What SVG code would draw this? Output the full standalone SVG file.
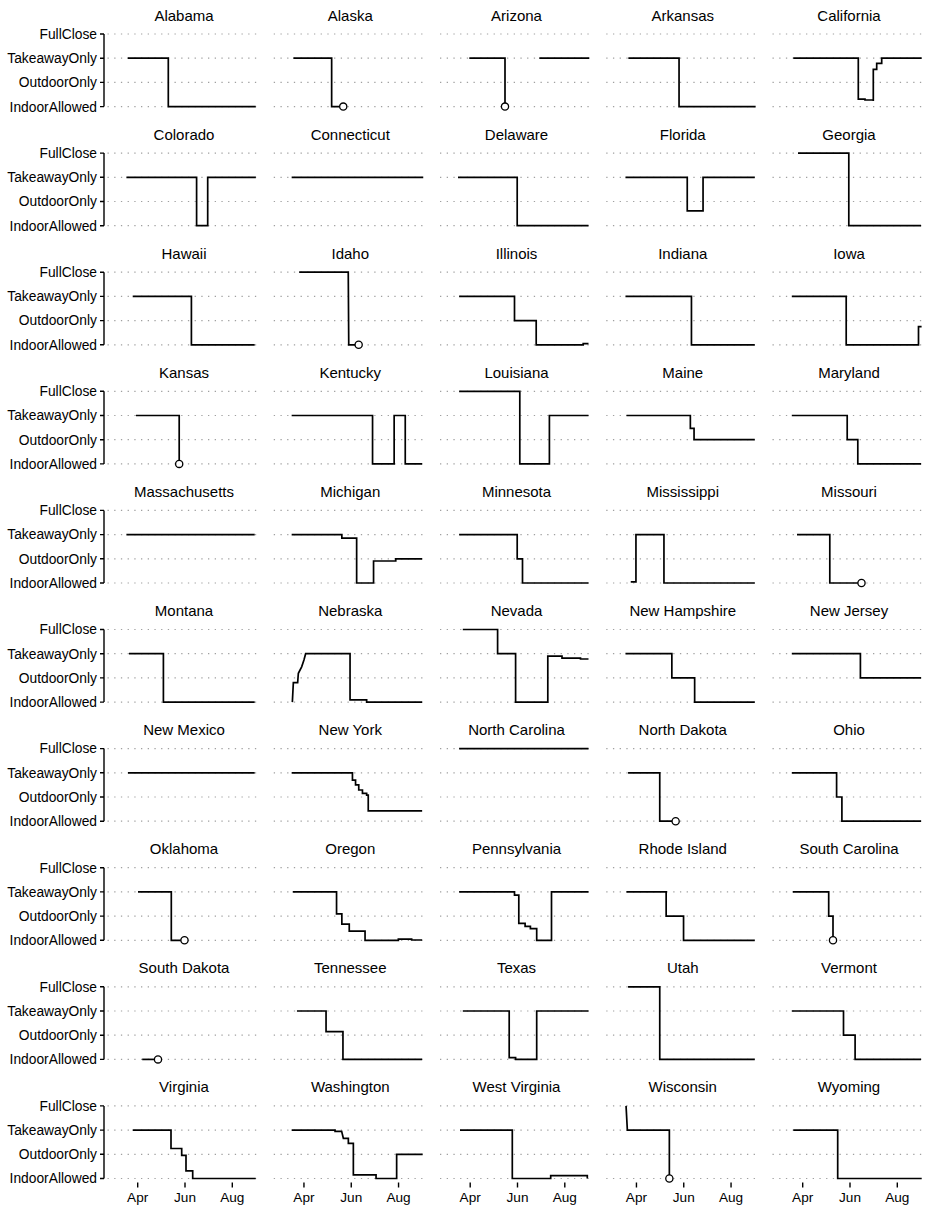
<svg xmlns="http://www.w3.org/2000/svg" xmlns:xlink="http://www.w3.org/1999/xlink" width="928" height="1206" viewBox="0 0 928 1206">
<style>
text{font-family:"Liberation Sans",Arial,Helvetica,sans-serif;fill:#000}
.t{font-size:15px;text-anchor:middle}
.yl{font-size:13.8px;text-anchor:end}
.xl{font-size:13.6px;text-anchor:middle}
.g{stroke:#a0a0a0;stroke-width:1.2;stroke-dasharray:1.3 5.4;fill:none}
.s{stroke:#000;stroke-width:1.7;fill:none;stroke-linejoin:miter}
.c{fill:#fff;stroke:#000;stroke-width:1.3}
.ax{stroke:#000;stroke-width:1.4;fill:none}
</style>
<defs>
<g id="grid">
<line class="g" x1="107.5" y1="34" x2="260.5" y2="34"/>
<line class="g" x1="107.5" y1="58.2" x2="260.5" y2="58.2"/>
<line class="g" x1="107.5" y1="82.4" x2="260.5" y2="82.4"/>
<line class="g" x1="107.5" y1="106.6" x2="260.5" y2="106.6"/>
</g>
<g id="yaxis">
<path class="ax" d="M104,34V106.6M100,34H104M100,58.2H104M100,82.4H104M100,106.6H104"/>
<text class="yl" x="97" y="38.9">FullClose</text><text class="yl" x="97" y="63.1">TakeawayOnly</text><text class="yl" x="97" y="87.3">OutdoorOnly</text><text class="yl" x="97" y="111.5">IndoorAllowed</text>
</g>
<g id="xaxis">
<path class="ax" d="M137.7,110.7V115.7M185,110.7V115.7M232.3,110.7V115.7"/>
<text class="xl" x="137.7" y="130">Apr</text><text class="xl" x="185" y="130">Jun</text><text class="xl" x="232.3" y="130">Aug</text>
</g>
</defs>
<rect width="928" height="1206" fill="#fff"/>

<g id="y-axes">
<use xlink:href="#yaxis" transform="translate(0,0)"/>
<use xlink:href="#yaxis" transform="translate(0,119.1)"/>
<use xlink:href="#yaxis" transform="translate(0,238.2)"/>
<use xlink:href="#yaxis" transform="translate(0,357.3)"/>
<use xlink:href="#yaxis" transform="translate(0,476.4)"/>
<use xlink:href="#yaxis" transform="translate(0,595.5)"/>
<use xlink:href="#yaxis" transform="translate(0,714.6)"/>
<use xlink:href="#yaxis" transform="translate(0,833.7)"/>
<use xlink:href="#yaxis" transform="translate(0,952.8)"/>
<use xlink:href="#yaxis" transform="translate(0,1071.9)"/>
</g>

<g id="x-axes">
<use xlink:href="#xaxis" transform="translate(0,1071.9)"/>
<use xlink:href="#xaxis" transform="translate(166.25,1071.9)"/>
<use xlink:href="#xaxis" transform="translate(332.5,1071.9)"/>
<use xlink:href="#xaxis" transform="translate(498.75,1071.9)"/>
<use xlink:href="#xaxis" transform="translate(665,1071.9)"/>
</g>

<g id="panels">
<!-- Row 1 -->
<g id="alabama" transform="translate(0,0)"><use xlink:href="#grid"/><text class="t" x="184" y="20.5">Alabama</text><path class="s" d="M127.7,58.2H168.3V106.6H255.7"/></g>
<g id="alaska" transform="translate(166.25,0)"><use xlink:href="#grid"/><text class="t" x="184" y="20.5">Alaska</text><path class="s" d="M127.1,58.2H165.4V106.6H177"/><circle class="c" cx="177" cy="106.6" r="3.6"/></g>
<g id="arizona" transform="translate(332.5,0)"><use xlink:href="#grid"/><text class="t" x="184" y="20.5">Arizona</text><path class="s" d="M136.8,58.2H172.5V106.6M206.8,58.2H256.8"/><circle class="c" cx="172.5" cy="106.6" r="3.6"/></g>
<g id="arkansas" transform="translate(498.75,0)"><use xlink:href="#grid"/><text class="t" x="184" y="20.5">Arkansas</text><path class="s" d="M129.6,58.2H180.3V106.6H256.9"/></g>
<g id="california" transform="translate(665,0)"><use xlink:href="#grid"/><text class="t" x="184" y="20.5">California</text><path class="s" d="M128.3,58.2H193.3V99.1H200V100H208.3V101V69.3H211.7V63.3H216.7V58.2H256.7"/></g>

<!-- Row 2 -->
<g id="colorado" transform="translate(0,119.1)"><use xlink:href="#grid"/><text class="t" x="184" y="20.5">Colorado</text><path class="s" d="M126.4,58.2H196.6V106.6H207.7V58.2H255.8"/></g>
<g id="connecticut" transform="translate(166.25,119.1)"><use xlink:href="#grid"/><text class="t" x="184" y="20.5">Connecticut</text><path class="s" d="M125.4,58.2H257"/></g>
<g id="delaware" transform="translate(332.5,119.1)"><use xlink:href="#grid"/><text class="t" x="184" y="20.5">Delaware</text><path class="s" d="M125.5,58.2H184.7V106.6H256"/></g>
<g id="florida" transform="translate(498.75,119.1)"><use xlink:href="#grid"/><text class="t" x="184" y="20.5">Florida</text><path class="s" d="M126.7,58.2H188.5V91.8H204.3V58.2H256"/></g>
<g id="georgia" transform="translate(665,119.1)"><use xlink:href="#grid"/><text class="t" x="184" y="20.5">Georgia</text><path class="s" d="M133,34H183.8V106.6H256.1"/></g>

<!-- Row 3 -->
<g id="hawaii" transform="translate(0,238.2)"><use xlink:href="#grid"/><text class="t" x="184" y="20.5">Hawaii</text><path class="s" d="M132.7,58.2H191.4V106.6H254.7"/></g>
<g id="idaho" transform="translate(166.25,238.2)"><use xlink:href="#grid"/><text class="t" x="184" y="20.5">Idaho</text><path class="s" d="M132.9,34H182L182.5,106.6H192.4"/><circle class="c" cx="192.4" cy="106.6" r="3.6"/></g>
<g id="illinois" transform="translate(332.5,238.2)"><use xlink:href="#grid"/><text class="t" x="184" y="20.5">Illinois</text><path class="s" d="M126.6,58.2H182V82.4H203.7V106.6H250.7V105.4H256"/></g>
<g id="indiana" transform="translate(498.75,238.2)"><use xlink:href="#grid"/><text class="t" x="184" y="20.5">Indiana</text><path class="s" d="M126.7,58.2H192.7V106.6H256"/></g>
<g id="iowa" transform="translate(665,238.2)"><use xlink:href="#grid"/><text class="t" x="184" y="20.5">Iowa</text><path class="s" d="M126.8,58.2H181.2V106.6H253.5V88.5H256.6"/></g>

<!-- Row 4 -->
<g id="kansas" transform="translate(0,357.3)"><use xlink:href="#grid"/><text class="t" x="184" y="20.5">Kansas</text><path class="s" d="M135.9,58.2H179.2V106.6"/><circle class="c" cx="179.2" cy="106.6" r="3.6"/></g>
<g id="kentucky" transform="translate(166.25,357.3)"><use xlink:href="#grid"/><text class="t" x="184" y="20.5">Kentucky</text><path class="s" d="M125.4,58.2H206.3V106.6H227.9V58.2H239V106.6H255.9"/></g>
<g id="louisiana" transform="translate(332.5,357.3)"><use xlink:href="#grid"/><text class="t" x="184" y="20.5">Louisiana</text><path class="s" d="M126.6,34H187.3V106.6H216.9V58.2H256"/></g>
<g id="maine" transform="translate(498.75,357.3)"><use xlink:href="#grid"/><text class="t" x="184" y="20.5">Maine</text><path class="s" d="M127.7,58.2H191.6V71H195.3V82.4H256"/></g>
<g id="maryland" transform="translate(665,357.3)"><use xlink:href="#grid"/><text class="t" x="184" y="20.5">Maryland</text><path class="s" d="M126.8,58.2H182.2V82.4H192.8V106.6H256.1"/></g>

<!-- Row 5 -->
<g id="massachusetts" transform="translate(0,476.4)"><use xlink:href="#grid"/><text class="t" x="184" y="20.5">Massachusetts</text><path class="s" d="M126.4,58.2H254.7"/></g>
<g id="michigan" transform="translate(166.25,476.4)"><use xlink:href="#grid"/><text class="t" x="184" y="20.5">Michigan</text><path class="s" d="M125.4,58.2H175.6V61.8H190.4V106.6H207.3V84.6H229.5V82.4H255.9"/></g>
<g id="minnesota" transform="translate(332.5,476.4)"><use xlink:href="#grid"/><text class="t" x="184" y="20.5">Minnesota</text><path class="s" d="M126.6,58.2H184.7V82.4H190V106.6H256"/></g>
<g id="mississippi" transform="translate(498.75,476.4)"><use xlink:href="#grid"/><text class="t" x="184" y="20.5">Mississippi</text><path class="s" d="M132,105.4H137.2V58.2H165.2V106.6H256"/></g>
<g id="missouri" transform="translate(665,476.4)"><use xlink:href="#grid"/><text class="t" x="184" y="20.5">Missouri</text><path class="s" d="M132,58.2H164.8V106.6H196.5"/><circle class="c" cx="196.5" cy="106.6" r="3.6"/></g>

<!-- Row 6 -->
<g id="montana" transform="translate(0,595.5)"><use xlink:href="#grid"/><text class="t" x="184" y="20.5">Montana</text><path class="s" d="M129,58.2H163.4V106.6H254.7"/></g>
<g id="nebraska" transform="translate(166.25,595.5)"><use xlink:href="#grid"/><text class="t" x="184" y="20.5">Nebraska</text><path class="s" d="M126.1,106.6L127.1,87.2H131.4L132.1,77.8L135.4,71.3L137.7,64.5L139.4,58.2H183.8V104.4H200.4V106.6H255.9"/></g>
<g id="nevada" transform="translate(332.5,595.5)"><use xlink:href="#grid"/><text class="t" x="184" y="20.5">Nevada</text><path class="s" d="M130.3,34H165.1V58.2H183.1V106.6H215.3V60.6H229.5V62.6H248V63.5H256"/></g>
<g id="new-hampshire" transform="translate(498.75,595.5)"><use xlink:href="#grid"/><text class="t" x="184" y="20.5">New Hampshire</text><path class="s" d="M126.7,58.2H173.1V82.4H195.9V106.6H256"/></g>
<g id="new-jersey" transform="translate(665,595.5)"><use xlink:href="#grid"/><text class="t" x="184" y="20.5">New Jersey</text><path class="s" d="M126.8,58.2H195.4V82.4H256.1"/></g>

<!-- Row 7 -->
<g id="new-mexico" transform="translate(0,714.6)"><use xlink:href="#grid"/><text class="t" x="184" y="20.5">New Mexico</text><path class="s" d="M128,58.2H254.7"/></g>
<g id="new-york" transform="translate(166.25,714.6)"><use xlink:href="#grid"/><text class="t" x="184" y="20.5">New York</text><path class="s" d="M125.4,58.2H186.2V65.5H189.3V70.3H192.5V75.4H196.2V78.8H200.4V80.5H202V96.2H255.9"/></g>
<g id="north-carolina" transform="translate(332.5,714.6)"><use xlink:href="#grid"/><text class="t" x="184" y="20.5">North Carolina</text><path class="s" d="M126.6,34H256"/></g>
<g id="north-dakota" transform="translate(498.75,714.6)"><use xlink:href="#grid"/><text class="t" x="184" y="20.5">North Dakota</text><path class="s" d="M129.3,58.2H161V106.6H176.9"/><circle class="c" cx="176.9" cy="106.6" r="3.6"/></g>
<g id="ohio" transform="translate(665,714.6)"><use xlink:href="#grid"/><text class="t" x="184" y="20.5">Ohio</text><path class="s" d="M126.8,58.2H171.6V82.4H176.9V106.6H256.1"/></g>

<!-- Row 8 -->
<g id="oklahoma" transform="translate(0,833.7)"><use xlink:href="#grid"/><text class="t" x="184" y="20.5">Oklahoma</text><path class="s" d="M138,58.2H171.3V106.6H184.5"/><circle class="c" cx="184.5" cy="106.6" r="3.6"/></g>
<g id="oregon" transform="translate(166.25,833.7)"><use xlink:href="#grid"/><text class="t" x="184" y="20.5">Oregon</text><path class="s" d="M126.5,58.2H170.3V80.2H175.6V90.4H183V97.4H198.8V106.6H232.1V105.4H245.4V106.3H255.9"/></g>
<g id="pennsylvania" transform="translate(332.5,833.7)"><use xlink:href="#grid"/><text class="t" x="184" y="20.5">Pennsylvania</text><path class="s" d="M126.6,58.2H182V61.4H186.3V89.7H192.6V92.6H197.9V95H204.2V106.6H219V58.2H256"/></g>
<g id="rhode-island" transform="translate(498.75,833.7)"><use xlink:href="#grid"/><text class="t" x="184" y="20.5">Rhode Island</text><path class="s" d="M127.7,58.2H167.4V82.4H184.8V106.6H256"/></g>
<g id="south-carolina" transform="translate(665,833.7)"><use xlink:href="#grid"/><text class="t" x="184" y="20.5">South Carolina</text><path class="s" d="M127.8,58.2H163.7V82.4H168V106.6"/><circle class="c" cx="168" cy="106.6" r="3.6"/></g>

<!-- Row 9 -->
<g id="south-dakota" transform="translate(0,952.8)"><use xlink:href="#grid"/><text class="t" x="184" y="20.5">South Dakota</text><path class="s" d="M142.2,106.6H158"/><circle class="c" cx="158" cy="106.6" r="3.6"/></g>
<g id="tennessee" transform="translate(166.25,952.8)"><use xlink:href="#grid"/><text class="t" x="184" y="20.5">Tennessee</text><path class="s" d="M130.7,58.2H159.8V78.8H176.7V106.6H255.9"/></g>
<g id="texas" transform="translate(332.5,952.8)"><use xlink:href="#grid"/><text class="t" x="184" y="20.5">Texas</text><path class="s" d="M130.3,58.2H176.7V104.9H183.1V106.6H204.2V58.2H256"/></g>
<g id="utah" transform="translate(498.75,952.8)"><use xlink:href="#grid"/><text class="t" x="184" y="20.5">Utah</text><path class="s" d="M129.3,34H161V106.6H256"/></g>
<g id="vermont" transform="translate(665,952.8)"><use xlink:href="#grid"/><text class="t" x="184" y="20.5">Vermont</text><path class="s" d="M126.8,58.2H178.5V82.4H190.1V106.6H256.1"/></g>

<!-- Row 10 -->
<g id="virginia" transform="translate(0,1071.9)"><use xlink:href="#grid"/><text class="t" x="184" y="20.5">Virginia</text><path class="s" d="M132.7,58.2H171V76.6H181.7V83.4H186V98.9H192.7V106.6H255.7"/></g>
<g id="washington" transform="translate(166.25,1071.9)"><use xlink:href="#grid"/><text class="t" x="184" y="20.5">Washington</text><path class="s" d="M125.4,58.2H168.8V59.5H175.4L177.1,66.4H182.1V71.4H187.1V103H209.8V106.6H230.4V82.4H256.4"/></g>
<g id="west-virginia" transform="translate(332.5,1071.9)"><use xlink:href="#grid"/><text class="t" x="184" y="20.5">West Virginia</text><path class="s" d="M127.5,58.2H179.8V106.6H218.2V103.7H254.8V106.6"/></g>
<g id="wisconsin" transform="translate(498.75,1071.9)"><use xlink:href="#grid"/><text class="t" x="184" y="20.5">Wisconsin</text><path class="s" d="M127.3,34L128.6,58.2H170.6V106.6"/><circle class="c" cx="170.6" cy="106.6" r="3.6"/></g>
<g id="wyoming" transform="translate(665,1071.9)"><use xlink:href="#grid"/><text class="t" x="184" y="20.5">Wyoming</text><path class="s" d="M128.3,58.2H172.7V106.6H256.7"/></g>
</g>
</svg>
